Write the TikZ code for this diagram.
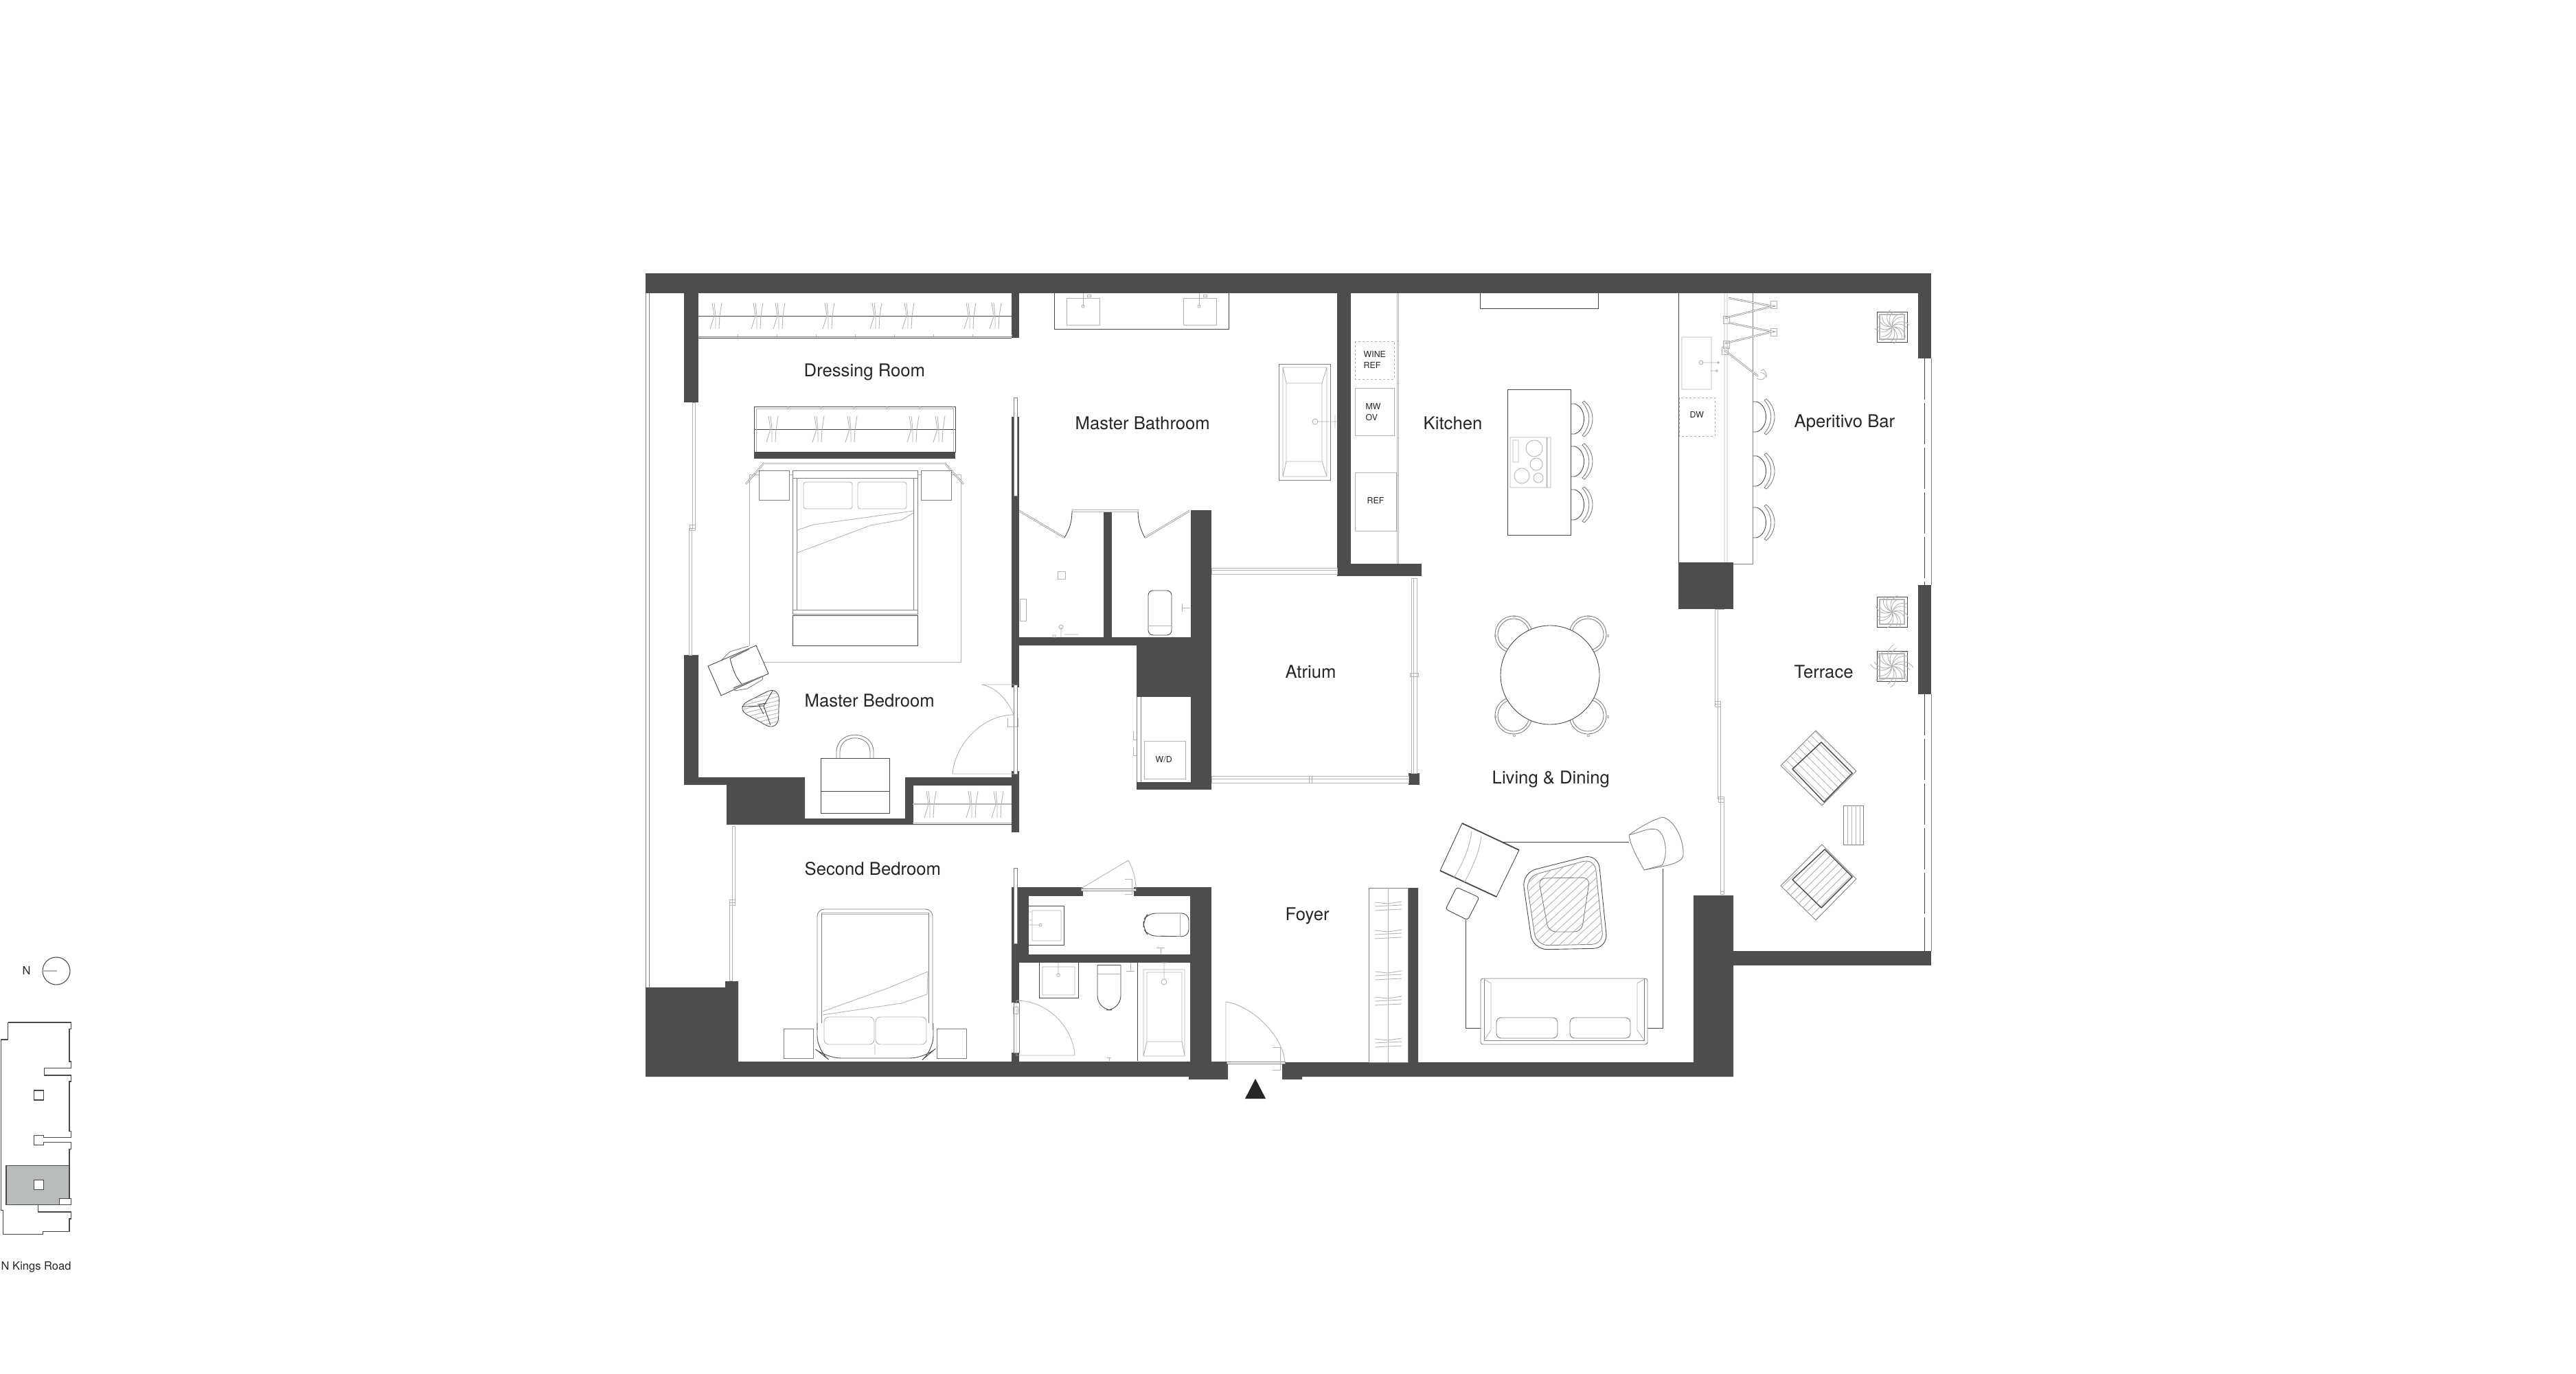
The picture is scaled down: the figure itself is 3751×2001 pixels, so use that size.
\documentclass[tikz,border=0pt]{standalone}
\usepackage{fontspec}
\setmainfont{TeX Gyre Heros}
\definecolor{wallc}{HTML}{4D4D4D}
\definecolor{inkc}{HTML}{484848}
\definecolor{midc}{HTML}{808080}
\definecolor{softc}{HTML}{B4B4B4}
\definecolor{keyc}{HTML}{B8BDBA}
\tikzset{
  wall/.style={fill=wallc},
  furn/.style={draw=inkc,line width=0.25pt},
  mid/.style={draw=midc,line width=0.25pt},
  soft/.style={draw=softc,line width=0.25pt},
  twin/.style={draw=midc,line width=0.18pt,double=white,double distance=0.3pt},
  room/.style={inner sep=0pt,anchor=west,font=\fontsize{7.3}{8}\selectfont,text=black!85},
  tag/.style={inner sep=0pt,anchor=west,align=left,font=\fontsize{3.5}{4.4}\selectfont,text=black!85},
  keylabel/.style={inner sep=0pt,anchor=west,font=\fontsize{4.7}{5.5}\selectfont,text=black!85}
}
\newcommand{\hangV}[3]{\draw[soft] (#1-5,#2) -- (#1-2,#2/2+#3/2) -- (#1-8,#3) (#1-2,#2) -- (#1,#2/2+#3/2) -- (#1,#3) (#1+9,#2) -- (#1+6,#2/2+#3/2) -- (#1+5,#3);}
\newcommand{\hangH}[1]{\draw[soft] (2002,#1-6) -- (2021,#1-4) -- (2041,#1-7) (2002,#1) -- (2021,#1-1) -- (2041,#1-2) (2002,#1+6) -- (2021,#1+5) -- (2041,#1+4);}
\newcommand{\stool}[2]{\draw[furn] (#1,#2-22) -- (#1+6,#2-22) .. controls (#1+24,#2-16) and (#1+24,#2+16) .. (#1+6,#2+22) -- (#1,#2+22); \draw[mid] (#1+17,#2-24) -- (#1+20,#2-26) .. controls (#1+36,#2-12) and (#1+36,#2+12) .. (#1+20,#2+26) -- (#1+17,#2+24) .. controls (#1+30,#2+10) and (#1+30,#2-10) .. (#1+17,#2-24);}
\newcommand{\planter}[4]{\draw[furn] (#1-22,#2-22) rectangle (#1+22,#2+22); \draw[softc,line width=0.5pt] (#1-18,#2-18) rectangle (#1+18,#2+18);
  \foreach \a in {0,45,...,315} { \draw[soft,shift={(#1,#2)},rotate=\a+#3,scale=#4] (0,0) .. controls (9,-7) and (19,-7) .. (25,2) (0,0) .. controls (6,-4) and (16,-3) .. (21,5); }}
\begin{document}
\begin{tikzpicture}[x=0.01cm,y=-0.01cm]
\fill[white] (0,0) rectangle (3751,2001);
\useasboundingbox (0,0) rectangle (3751,2001);
% walls
\foreach \xa/\ya/\xb/\yb in {940/398/2812/427, 2793/427/2812/522, 996/427/1017/586, 1473/427/1484/492, 1947/427/1967/839, 1947/821/2070/839, 1473/607/1484/1001, 1484/928/1655/940, 1655/928/1764/1015, 1734/743/1764/1150, 1607/744/1619/928, 1655/1139/1764/1150, 2051/1126/2067/1143, 2444/819/2524/887, 2793/852/2812/1011, 2524/1385/2812/1406, 1473/1292/1577/1305, 1651/1292/1764/1305, 1473/1292/1498/1390, 1473/1390/1764/1402, 1473/1402/1484/1460, 1733/1292/1764/1546, 1473/1533/1484/1546, 1098/658/1391/668} { \fill[wall] (\xa,\ya) rectangle (\xb,\yb); }
\fill[wall] (996,954) -- (1017,954) -- (1017,1132) -- (1172,1132) -- (1172,1192) -- (1318,1192) -- (1318,1132) -- (1473,1132) -- (1473,1123) -- (1484,1123) -- (1484,1212) -- (1473,1212) -- (1473,1201) -- (1058,1201) -- (1058,1143) -- (996,1143) -- cycle;
\fill[white] (1329,1143) rectangle (1473,1200);
\fill[wall] (940,1438) -- (1056,1438) -- (1056,1429) -- (1075,1429) -- (1075,1546) -- (1788,1546) -- (1788,1572) -- (1731,1572) -- (1731,1568) -- (940,1568) -- cycle;
\fill[wall] (1867,1547) -- (2050,1547) -- (2050,1293) -- (2065,1293) -- (2065,1547) -- (2466,1547) -- (2466,1304) -- (2524,1304) -- (2524,1568) -- (1896,1568) -- (1896,1572) -- (1867,1572) -- cycle;
% windows and glazing
\draw[mid] (940,427) -- (940,1438) (945,427) -- (945,1438);
\draw[soft] (1008,586) rectangle (1012,769) (1003,769) rectangle (1007,954) (1004,764) rectangle (1012,772);
\draw[soft] (1066,1203) rectangle (1070,1314) (1062,1314) rectangle (1066,1428) (1062,1310) rectangle (1070,1318);
\draw[soft] (1764,827) rectangle (1947,836) (1764,830) -- (1947,830);
\draw[soft] (2055,842) rectangle (2063,1126) (2058,842) -- (2058,1126) (2053,980) rectangle (2065,985);
\draw[soft] (1764,1130) rectangle (2051,1140) (1764,1134) -- (2051,1134) (1906,1130) rectangle (1910,1140);
\draw[soft] (2497,887) rectangle (2501,1025) (2501,1025) rectangle (2505,1163) (2505,1163) rectangle (2510,1302) (2497,887) -- (2511,887) (2497,1021) rectangle (2505,1029) (2502,1160) rectangle (2510,1168) (2505,1298) -- (2511,1298);
\draw[mid] (2812,522) -- (2812,852) (2812,1011) -- (2812,1385);
\draw[furn,dash pattern=on 0.6cm off 0.05cm] (2802,522) -- (2802,852) (2802,1011) -- (2802,1385);
% doors
\draw[mid,fill=white] (1476,579) rectangle (1481,722);
\draw[mid,fill=white] (1476,1264) rectangle (1481,1374);
\draw[mid,fill=white] (1476,997) rectangle (1481,1127);
\draw[soft] (1429,997) -- (1476,997) (1429,997) .. controls (1450,1000) and (1468,1020) .. (1476,1041) (1387,1127) -- (1476,1127) (1387,1127) .. controls (1390,1085) and (1430,1041) .. (1476,1041);
\draw[soft] (1467,1046) -- (1467,1058) -- (1482,1058) -- (1482,1046);
\draw[twin] (1484,744) -- (1550,783);
\draw[furn] (1550,783) .. controls (1558,770) and (1561,758) .. (1561,744);
\draw[twin] (1732,744) -- (1667,783);
\draw[furn] (1667,783) .. controls (1660,770) and (1657,758) .. (1657,744);
\draw[soft,fill=white] (1561,742) rectangle (1657,745);
\draw[mid,fill=white] (1574,1294) rectangle (1654,1297);
\draw[soft] (1574,1294) -- (1643,1253) .. controls (1650,1266) and (1654,1280) .. (1654,1294);
\draw[soft] (1638,1280) -- (1648,1280) -- (1648,1294) (1638,1302) -- (1648,1302) -- (1648,1294);
\draw[mid,fill=white] (1476,1460) rectangle (1484,1533);
\draw[soft] (1480,1457) -- (1480,1537) -- (1565,1537) .. controls (1563,1500) and (1530,1458) .. (1480,1457);
\draw[soft] (1475,1466) rectangle (1482,1476);
\draw[mid,fill=white] (1786,1546) rectangle (1871,1549);
\draw[soft] (1785,1459) -- (1785,1546) (1785,1459) .. controls (1825,1465) and (1868,1510) .. (1871,1546);
\draw[soft] (1853,1525) -- (1864,1525) -- (1864,1546) (1853,1558) -- (1864,1558) -- (1864,1546);
\fill[black!85] (1828,1571) -- (1843,1600) -- (1813,1600) -- cycle;
% closets
\draw[mid] (1017,490) -- (1473,490);
\draw[furn] (1017,492) -- (1473,492) (1017,460) -- (1473,460);
\foreach \x in {1074,1131,...,1473} { \draw[soft] (\x,490) -- (\x,487); }
\foreach \x in {1042,1102,1134,1206,1275,1322,1412,1449} { \hangV{\x}{441}{479} }
\draw[furn] (1098,592) rectangle (1391,658) (1098,625) -- (1391,625);
\draw[soft] (1101,595) -- (1388,595) (1101,595) -- (1101,658) (1388,595) -- (1388,658);
\foreach \x in {1147,1195,...,1391} { \draw[soft] (\x,592) -- (\x,595); }
\foreach \x in {1124,1191,1239,1329,1367} { \hangV{\x}{606}{644} }
\draw[furn] (1329,1143) rectangle (1473,1200);
\draw[soft] (1329,1198) -- (1473,1198);
\draw[softc,line width=0.6pt] (1329,1171) -- (1473,1171);
\foreach \x in {1354,1415,1452} { \hangV{\x}{1152}{1191} }
\draw[mid] (1993,1293) rectangle (2050,1547); \draw[soft] (2021,1293) -- (2021,1547);
\foreach \y in {1320,1361,1421,1458,1519} { \hangH{\y} }
% master bedroom
\draw[soft] (1091,941) -- (1091,691) -- (1399,691) -- (1399,964) -- (1112,964);
\draw[mid,fill=white] (1154,685) rectangle (1336,696);
\draw[twin] (1086,705) -- (1112,675) -- (1376,675) -- (1403,705);
\draw[mid,fill=white] (1105,685) rectangle (1149,728) (1341,685) rectangle (1385,728);
\draw[mid] (1154,696) rectangle (1336,894) (1160,696) -- (1160,888) (1330,696) -- (1330,888) (1154,888) -- (1336,888);
\draw[furn] (1154,896) rectangle (1336,940);
\draw[soft,rounded corners=1pt] (1170,702) rectangle (1241,741) (1249,702) rectangle (1320,741);
\draw[soft] (1161,772) -- (1185,764) -- (1330,744) (1161,805) -- (1268,765) -- (1313,757) -- (1330,747) (1161,772) -- (1161,805);
\draw[mid] (1049,963) -- (1063,949) -- (1090,941) (1069,1002) -- (1070,1006) -- (1088,1003) -- (1110,990) -- (1111,985);
\draw[furn,fill=white] (1031,970) -- (1101,940) -- (1119,981) -- (1050,1013) -- cycle (1063,959) .. controls (1067,975) and (1072,988) .. (1080,996);
\draw[midc,line width=0.5pt] (1063,959) -- (1091,945) (1068,1002) -- (1110,985);
\draw[furn,rounded corners=6pt] (1070,1031) -- (1135,998) -- (1133,1066) -- cycle;
\begin{scope}
\clip[rounded corners=6pt] (1070,1031) -- (1135,998) -- (1133,1066) -- cycle;
\foreach \k in {0,6,...,72} { \draw[soft] (1070,1012+\k) -- (1135,996+\k); }
\end{scope}
\draw[furn] (1112,1028) -- (1125,1006) (1112,1028) -- (1122,1056) (1112,1028) -- (1080,1029) (1103,1026) -- (1116,1024) (1105,1027) -- (1112,1040);
\draw[mid] (1218,1104) -- (1218,1095) .. controls (1218,1062) and (1272,1062) .. (1272,1095) -- (1272,1104) (1223,1104) -- (1223,1095) .. controls (1223,1068) and (1267,1068) .. (1267,1095) -- (1267,1104);
\draw[furn,fill=white] (1195,1104) rectangle (1295,1184) (1195,1152) -- (1295,1152);
% master bathroom
\draw[furn] (1535,427) -- (1535,479) -- (1789,479) -- (1789,427);
\draw[soft] (1553,434) rectangle (1601,473) (1723,434) rectangle (1771,473);
\draw[soft] (1577,427) -- (1577,446) (1746,427) -- (1746,446) (1583,429) rectangle (1588,432) (1752,429) rectangle (1757,432);
\draw[soft] (1577,446) circle (2) (1746,446) circle (2);
\draw[mid] (1862,530) rectangle (1937,699);
\draw[soft] (1868,535) rectangle (1932,694) (1873,558) rectangle (1925,672) (1868,535) -- (1873,558) (1932,535) -- (1925,558) (1868,694) -- (1873,672) (1932,694) -- (1925,672);
\draw[soft] (1915,614) circle (4) (1919,614) -- (1947,614) (1944,605) -- (1944,623);
\draw[soft] (1540,832) rectangle (1551,843) (1485,872) rectangle (1494,904);
\draw[soft] (1545,928) -- (1545,913) (1545,913) circle (3) (1533,925) rectangle (1537,928) (1550,924) -- (1570,924);
\draw[furn,rounded corners=2pt] (1672,925) -- (1672,860) -- (1706,860) -- (1706,925) -- cycle;
\draw[soft] (1672,911) -- (1706,911) (1721,885) -- (1733,885) (1721,879) -- (1721,891);
% laundry
\draw[mid] (1655,1015) -- (1655,1139) (1661,1015) -- (1661,1139);
\draw[soft] (1666,1079) rectangle (1726,1134) (1650,1065) -- (1650,1077) -- (1655,1077) (1650,1088) -- (1650,1100) -- (1655,1100);
\node[tag] (wdtag) at (1682,1106) {W/D};
% kitchen
\draw[soft] (2034,427) -- (2034,821) (2036,427) -- (2036,821);
\foreach \y in {496,558,637,692} { \draw[soft] (2034,\y) -- (2036,\y); }
\draw[soft,dash pattern=on 0.03cm off 0.03cm] (1973,497) rectangle (2030,552) (2445,579) rectangle (2497,635);
\draw[soft] (1973,565) rectangle (2030,634) (1973,688) rectangle (2033,773);
\node[tag] (winetag) at (1985,524) {WINE\\REF};
\node[tag] (mwtag) at (1988,600) {MW\\OV};
\node[tag] (reftag) at (1990,729) {REF};
\draw[furn] (2155,427) -- (2155,449) -- (2327,449) -- (2327,427);
\draw[furn] (2195,567) rectangle (2287,779);
\draw[soft] (2199,637) rectangle (2252,710) (2253,637) rectangle (2258,710) (2203,641) rectangle (2211,673) (2234,653) circle (12) (2237,676) circle (9) (2216,693) circle (11) (2240,696) circle (7);
\foreach \y in {610,672,735} { \stool{2287}{\y} }
% aperitivo bar
\draw[furn] (2444,427) -- (2444,819);
\draw[mid] (2552,427) -- (2552,821) -- (2524,821);
\draw[soft] (2511,427) -- (2511,819) (2515,427) -- (2515,819) (2449,491) rectangle (2492,567) (2477,528) -- (2502,528) (2477,528) circle (3) (2502,528) circle (1.5) (2500,540) circle (1.5) (2490,540) -- (2499,540);
\foreach \y in {607,686,761} { \stool{2552}{\y} }
\node[tag] (dwtag) at (2460,604) {DW};
\draw[twin] (2517,434) -- (2581,446) -- (2512,463) (2517,470) -- (2581,483) -- (2512,500) (2511,510) -- (2560,548);
\foreach \x/\y in {2581/443,2581/483,2512/465,2512/501,2510/510} { \draw[soft] (\x-3,\y-5) rectangle (\x+6,\y+6); }
\draw[soft] (2563,543) .. controls (2566,542) and (2570,544) .. (2571,547) .. controls (2570,552) and (2565,555) .. (2558,551) (2564,540) -- (2568,538) .. controls (2572,542) and (2573,546) .. (2572,550);
\planter{2755}{476}{10}{1}
\planter{2755}{891}{30}{1}
\planter{2755}{970}{0}{1.25}
% dining
\foreach \x/\y/\s/\t in {2204/924/-1/-1,2312/924/1/-1,2204/1042/-1/1,2312/1042/1/1} { \draw[mid] (\x,\y) circle (27) (\x,\y) circle (23); \draw[soft] (\x-1,\y+\t*28) rectangle +(3,2) (\x+\s*28,\y) rectangle +(2,3); }
\draw[furn,fill=white] (2257,983) circle (72);
% living
\draw[furn] (2134,1340) -- (2134,1497) -- (2156,1497) (2399,1497) -- (2421,1497) -- (2421,1265) (2146,1226) -- (2372,1226);
\draw[mid,rounded corners=1pt,fill=white] (2156,1425) rectangle (2399,1521);
\draw[mid] (2161,1425) -- (2161,1515) -- (2394,1515) -- (2394,1425);
\draw[soft] (2171,1432) -- (2171,1500) -- (2161,1515) (2384,1432) -- (2384,1500) -- (2394,1515) (2161,1426) -- (2171,1432) (2394,1426) -- (2384,1432);
\draw[mid,rounded corners=2pt] (2179,1482) rectangle (2268,1512) (2286,1482) rectangle (2374,1512);
\draw[furn,rounded corners=6pt] (2216,1271) -- (2327,1243) -- (2341,1381) -- (2232,1383) -- cycle;
\draw[mid,rounded corners=5pt] (2222,1277) -- (2322,1250) -- (2335,1375) -- (2237,1377) -- cycle;
\begin{scope}
\clip[rounded corners=5pt] (2222,1277) -- (2322,1250) -- (2335,1375) -- (2237,1377) -- cycle;
\foreach \k in {0,12,...,180} { \draw[soft] (2210,1300+\k) -- (2340,1180+\k); }
\end{scope}
\draw[mid,rounded corners=3pt] (2240,1279) -- (2315,1278) -- (2303,1357) -- (2255,1357) -- cycle;
\draw[furn,fill=white] (2129,1199) -- (2212,1238) -- (2179,1306) -- (2097,1268) -- cycle;
\draw[inkc,line width=0.5pt] (2129,1199) -- (2212,1238) (2097,1268) -- (2179,1306);
\draw[soft] (2143,1210) .. controls (2140,1235) and (2130,1258) .. (2117,1278) (2157,1218) .. controls (2154,1240) and (2145,1263) .. (2132,1285);
\draw[furn,fill=white,rounded corners=1pt] (2121,1292) -- (2154,1307) -- (2137,1340) -- (2105,1324) -- cycle;
\draw[mid,fill=white] (2372,1216) .. controls (2390,1203) and (2405,1195) .. (2421,1190) .. controls (2440,1195) and (2452,1225) .. (2451,1245) .. controls (2451,1258) and (2420,1262) .. (2394,1267) .. controls (2385,1250) and (2375,1235) .. (2372,1216);
\draw[mid] (2372,1216) .. controls (2390,1212) and (2400,1205) .. (2412,1208) .. controls (2428,1215) and (2428,1250) .. (2420,1260) -- (2394,1267);
% terrace furniture
\draw[mid] (2644,1064) -- (2703,1123) -- (2653,1173) -- (2593,1115) -- cycle;
\begin{scope}
\clip (2644,1064) -- (2697,1126) -- (2656,1168) -- (2593,1115) -- cycle;
\foreach \k in {-60,-54,...,60} { \draw[soft] (2650+\k-100,1120-\k-100) -- (2650+\k+100,1120-\k+100); }
\end{scope}
\draw[inkc,line width=0.4pt] (2652,1081) -- (2697,1126) -- (2656,1168) -- (2610,1120) -- cycle;
\draw[mid] (2653,1230) -- (2703,1280) -- (2644,1340) -- (2593,1290) -- cycle;
\begin{scope}
\clip (2657,1237) -- (2697,1277) -- (2644,1340) -- (2593,1290) -- cycle;
\foreach \k in {-60,-54,...,60} { \draw[soft] (2650+\k-100,1285+\k+100) -- (2650+\k+100,1285+\k-100); }
\end{scope}
\draw[inkc,line width=0.4pt] (2657,1237) -- (2697,1277) -- (2652,1322) -- (2610,1281) -- cycle;
\draw[mid] (2684,1173) rectangle (2713,1230);
\foreach \x in {2690,2696,2702,2708} { \draw[soft] (\x,1173) -- (\x,1230); }
% second bedroom
\draw[mid,rounded corners=3pt] (1190,1500) -- (1190,1324) -- (1358,1324) -- (1358,1500);
\draw[furn,rounded corners=6pt] (1190,1490) -- (1190,1530) -- (1204,1541) -- (1346,1541) -- (1359,1530) -- (1359,1490);
\draw[soft] (1196,1329) -- (1352,1329) (1196,1331) -- (1352,1331);
\draw[mid] (1196,1329) -- (1196,1490) (1352,1329) -- (1352,1490);
\draw[soft,rounded corners=2pt] (1200,1481) rectangle (1273,1521) (1275,1481) rectangle (1349,1521);
\draw[soft] (1198,1473) -- (1293,1439) -- (1351,1415) (1198,1478) -- (1313,1461) -- (1350,1448) -- (1351,1415) (1274,1521) -- (1274,1536);
\draw[mid] (1141,1498) rectangle (1184,1541) (1364,1498) rectangle (1407,1541);
% powder room and bath
\draw[furn] (1498,1319) -- (1549,1319) -- (1549,1376) -- (1498,1376);
\draw[soft] (1503,1326) rectangle (1545,1370) (1498,1347) -- (1515,1347) (1515,1347) circle (2) (1498,1328) -- (1503,1328) (1503,1340) -- (1498,1340);
\draw[furn,rounded corners=3pt] (1731,1330) -- (1672,1330) -- (1665,1340) -- (1665,1352) -- (1672,1363) -- (1731,1364) -- cycle;
\draw[soft] (1718,1331) -- (1718,1363) (1690,1380) -- (1690,1390) (1684,1380) -- (1696,1380);
\draw[furn] (1513,1402) -- (1513,1453) -- (1570,1453) -- (1570,1402);
\draw[soft] (1518,1408) rectangle (1565,1449) (1541,1402) -- (1541,1420) (1541,1420) circle (2.5);
\draw[furn,rounded corners=6pt] (1598,1405) -- (1598,1471) -- (1632,1471) -- (1632,1405);
\draw[furn] (1598,1405) -- (1632,1405);
\draw[soft] (1598,1418) -- (1632,1418) (1646,1402) -- (1646,1414) (1640,1414) -- (1652,1414) (1615,1540) -- (1615,1545) (1612,1540) -- (1618,1540);
\draw[furn] (1656,1402) -- (1656,1545);
\draw[soft] (1665,1412) rectangle (1725,1538) (1670,1416) rectangle (1721,1517) (1665,1538) -- (1670,1517) (1725,1538) -- (1721,1517) (1695,1402) -- (1695,1425) (1695,1430) circle (4) (1690,1402) -- (1700,1402);
% key plan
\node[keylabel] (northtag) at (32,1413) {N};
\node[keylabel] (roadtag) at (1,1845) {N Kings Road};
\draw[inkc,line width=0.3pt] (82,1414) circle (20);
\draw[softc,line width=0.4pt] (62,1414) -- (83,1414);
\begin{scope}[shift={(0,1380)},scale=0.3333]
\fill[keyc] (27,952) rectangle (303,1123);
\draw[inkc,line width=0.35pt] (35,327) -- (310,327) -- (310,355) -- (303,355) -- (303,498) -- (310,498) -- (310,527) -- (193,527) -- (193,558) -- (310,558) -- (310,585) -- (303,585) -- (303,802) -- (310,802) -- (310,830) -- (190,830) -- (190,820) -- (148,820) -- (148,862) -- (190,862) -- (190,850) -- (310,850) -- (310,880) -- (303,880) -- (303,952) (27,952) rectangle (303,1123);
\draw[inkc,line width=0.35pt,fill=white] (259,1097) rectangle (310,1123) (148,1015) rectangle (190,1057);
\draw[inkc,line width=0.35pt] (166,1123) -- (166,1155) -- (310,1155) -- (310,1185) -- (303,1185) -- (303,1240) -- (187,1240) -- (187,1253) -- (14,1253) -- (14,1148) -- (5,1148) -- (5,402) -- (35,402) -- (35,327);
\draw[inkc,line width=0.35pt] (148,624) rectangle (190,666);
\end{scope}
% room names
\node[room] (dressing) at (1170,542) {Dressing Room};
\node[room] (masterbath) at (1565,616) {Master Bathroom};
\node[room] (kitchen) at (2072,616) {Kitchen};
\node[room] (aperitivo) at (2612,616) {Aperitivo Bar};
\node[room] (atrium) at (1871,978) {Atrium};
\node[room] (terrace) at (2612,978) {Terrace};
\node[room] (masterbed) at (1171,1020) {Master Bedroom};
\node[room] (living) at (2172,1135) {Living \& Dining};
\node[room] (secondbed) at (1171,1265) {Second Bedroom};
\node[room] (foyer) at (1871,1334) {Foyer};
\end{tikzpicture}
\end{document}
